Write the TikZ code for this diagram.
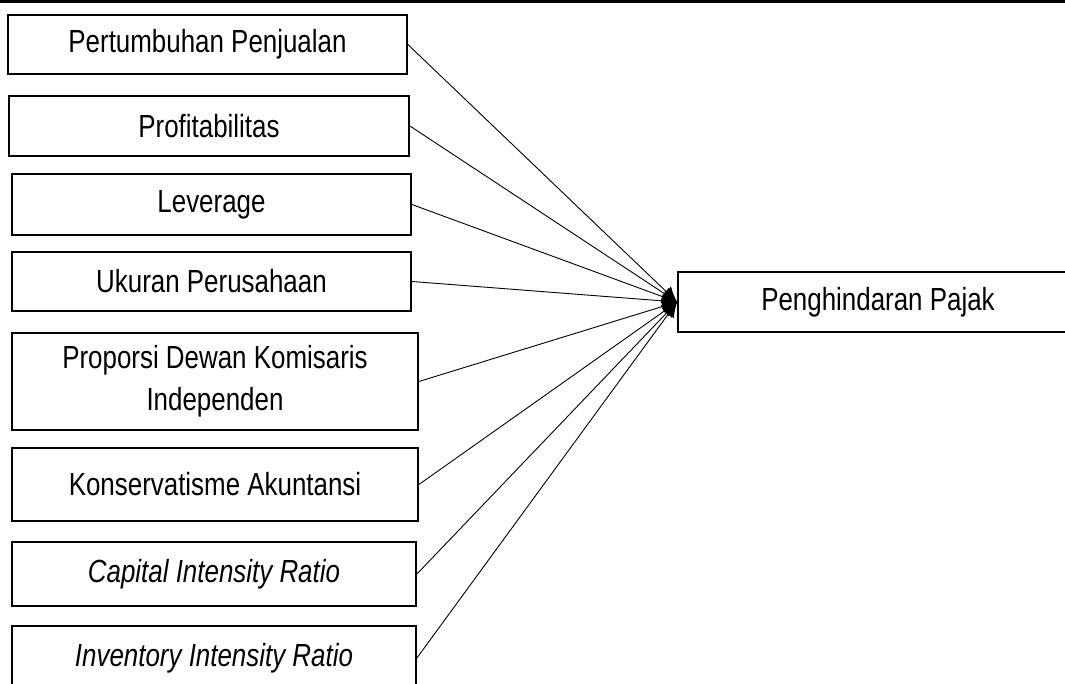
\documentclass[tikz,border=0pt]{standalone}
\usepackage{fontspec}
\setmainfont{Liberation Sans}[FakeStretch=0.81]
\usetikzlibrary{arrows.meta}
\begin{document}
\begin{tikzpicture}[x=1pt,y=-1pt,
  box/.style={draw,line width=1.8pt,inner sep=0pt,align=center,
    font=\fontsize{32}{42}\selectfont},
  link/.style={line width=0.9pt,-{Latex[length=15pt,width=14pt]}}]
\useasboundingbox (0,0) rectangle (1065,684);
\draw[line width=3pt] (0,2) -- (1065,2);
\node[box,minimum width=399pt,minimum height=59pt] (b1) at (207.5,44.5) {Pertumbuhan Penjualan};
\node[box,minimum width=400pt,minimum height=60pt] (b2) at (209,126) {Profitabilitas};
\node[box,minimum width=399pt,minimum height=61pt] (b3) at (211.5,204.5) {Leverage};
\node[box,minimum width=399pt,minimum height=59pt] (b4) at (211.5,281.5) {Ukuran Perusahaan};
\node[box,minimum width=406pt,minimum height=97pt] (b5) at (215,381.5) {Proporsi Dewan Komisaris\\Independen};
\node[box,minimum width=406pt,minimum height=73pt] (b6) at (215,484.5) {Konservatisme Akuntansi};
\node[box,minimum width=404pt,minimum height=64pt] (b7) at (214,574) {\itshape Capital Intensity Ratio};
\node[box,minimum width=404pt,minimum height=64pt] (b8) at (214,658) {\itshape Inventory Intensity Ratio};
\node[box,minimum width=400pt,minimum height=60pt] (t) at (878,302) {Penghindaran Pajak};
\foreach \n in {b1,b2,b3,b4,b5,b6,b7,b8}
  \draw[link] (\n.east) -- (t.west);
\end{tikzpicture}
\end{document}
